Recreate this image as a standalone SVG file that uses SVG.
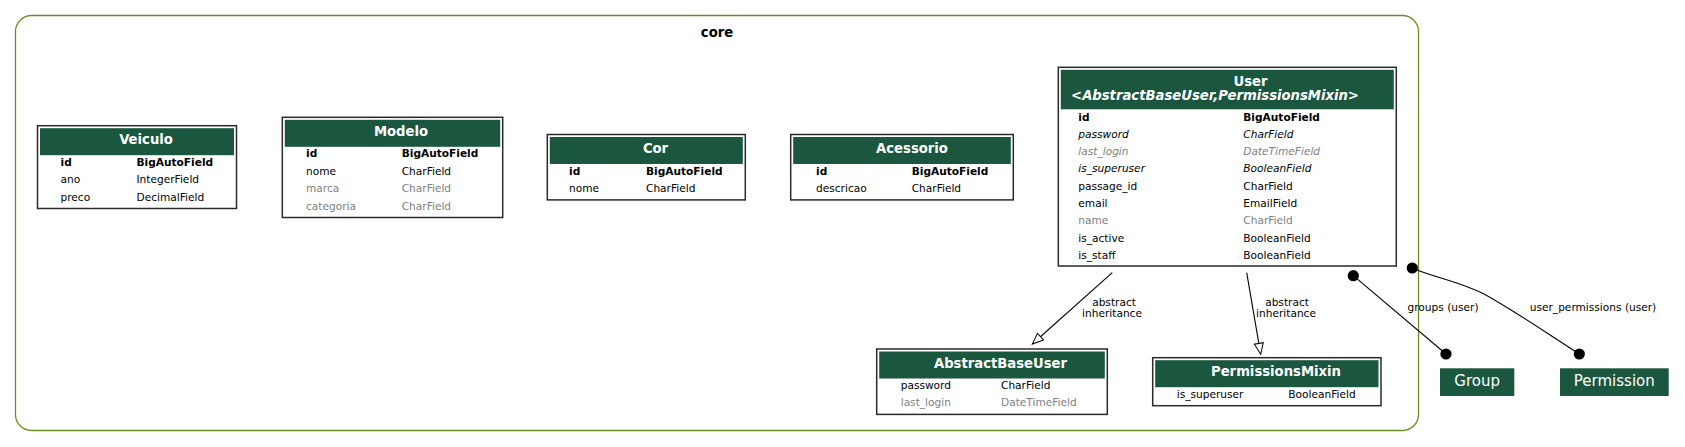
<svg xmlns="http://www.w3.org/2000/svg" width="1685" height="447" viewBox="0 0 1685 447">
<style>
text{font-family:"DejaVu Sans","Liberation Sans",sans-serif;fill:#000}
.f{font-size:10.6px}
.b{font-weight:bold}
.i{font-style:italic}
.g{fill:#808080}
.t{font-size:13.2px;font-weight:bold;fill:#fff;text-anchor:middle}
.box{fill:#fff;stroke:#2a2a2a;stroke-width:1.5}
.hd{fill:#1b563f}
.lbl{font-size:10.6px;text-anchor:middle}
.ext{font-size:15px;fill:#fff;text-anchor:middle}
.edge{fill:none;stroke:#000;stroke-width:1.1}
.dot{fill:#000}
</style>
<defs>
<marker id="inh" viewBox="0 0 13 11" refX="12" refY="5.5" markerWidth="13" markerHeight="11" markerUnits="userSpaceOnUse" orient="auto">
<path d="M1,1 L12,5.5 L1,10 Z" fill="#fff" stroke="#000" stroke-width="1"/>
</marker>
</defs>
<rect width="1685" height="447" fill="#fff"/>
<g id="cluster_core">
<rect x="15.5" y="15.5" width="1403" height="415" rx="16" fill="none" stroke="#6b8e23" stroke-width="1.3"/>
<text x="717" y="36.5" style="font-size:13.2px;font-weight:bold;text-anchor:middle">core</text>
</g>
<g id="Veiculo">
<rect class="box" x="37.5" y="125.7" width="199" height="82.8"/>
<rect class="hd" x="40" y="128.2" width="194" height="27"/>
<text class="t" x="146" y="144.2">Veiculo</text>
<text class="f b" x="60.5" y="165.7">id</text><text class="f b" x="136.5" y="165.7">BigAutoField</text>
<text class="f" x="60.5" y="183.1">ano</text><text class="f" x="136.5" y="183.1">IntegerField</text>
<text class="f" x="60.5" y="200.5">preco</text><text class="f" x="136.5" y="200.5">DecimalField</text>
</g>
<g id="Modelo">
<rect class="box" x="282.3" y="117.3" width="220.4" height="100.2"/>
<rect class="hd" x="284.8" y="119.8" width="215.4" height="27"/>
<text class="t" x="401" y="135.8">Modelo</text>
<text class="f b" x="306" y="157.3">id</text><text class="f b" x="401.7" y="157.3">BigAutoField</text>
<text class="f" x="306" y="174.7">nome</text><text class="f" x="401.7" y="174.7">CharField</text>
<text class="f g" x="306" y="192.1">marca</text><text class="f g" x="401.7" y="192.1">CharField</text>
<text class="f g" x="306" y="209.5">categoria</text><text class="f g" x="401.7" y="209.5">CharField</text>
</g>
<g id="Cor">
<rect class="box" x="547.3" y="134.5" width="198" height="65.4"/>
<rect class="hd" x="549.8" y="137" width="193" height="27"/>
<text class="t" x="655.5" y="153">Cor</text>
<text class="f b" x="569" y="174.5">id</text><text class="f b" x="646" y="174.5">BigAutoField</text>
<text class="f" x="569" y="191.9">nome</text><text class="f" x="646" y="191.9">CharField</text>
</g>
<g id="Acessorio">
<rect class="box" x="790.7" y="134.5" width="222.6" height="65.4"/>
<rect class="hd" x="793.2" y="137" width="217.6" height="27"/>
<text class="t" x="912" y="153">Acessorio</text>
<text class="f b" x="816" y="174.5">id</text><text class="f b" x="911.7" y="174.5">BigAutoField</text>
<text class="f" x="816" y="191.9">descricao</text><text class="f" x="911.7" y="191.9">CharField</text>
</g>
<g id="User">
<rect class="box" x="1058.3" y="67.3" width="338" height="198.7"/>
<rect class="hd" x="1060.8" y="69.8" width="333" height="39.5"/>
<text class="t" x="1250.5" y="86.3">User</text>
<text class="t" x="1215" y="100" style="font-style:italic">&lt;AbstractBaseUser,PermissionsMixin&gt;</text>
<text class="f b" x="1078.3" y="120.5">id</text><text class="f b" x="1243.3" y="120.5">BigAutoField</text>
<text class="f i" x="1078.3" y="137.8">password</text><text class="f i" x="1243.3" y="137.8">CharField</text>
<text class="f i g" x="1078.3" y="155.1">last_login</text><text class="f i g" x="1243.3" y="155.1">DateTimeField</text>
<text class="f i" x="1078.3" y="172.4">is_superuser</text><text class="f i" x="1243.3" y="172.4">BooleanField</text>
<text class="f" x="1078.3" y="189.7">passage_id</text><text class="f" x="1243.3" y="189.7">CharField</text>
<text class="f" x="1078.3" y="207">email</text><text class="f" x="1243.3" y="207">EmailField</text>
<text class="f g" x="1078.3" y="224.3">name</text><text class="f g" x="1243.3" y="224.3">CharField</text>
<text class="f" x="1078.3" y="241.6">is_active</text><text class="f" x="1243.3" y="241.6">BooleanField</text>
<text class="f" x="1078.3" y="258.9">is_staff</text><text class="f" x="1243.3" y="258.9">BooleanField</text>
</g>
<g id="AbstractBaseUser">
<rect class="box" x="876.7" y="349" width="230.6" height="65.4"/>
<rect class="hd" x="879.2" y="351.5" width="225.6" height="27"/>
<text class="t" x="1000.5" y="367.5">AbstractBaseUser</text>
<text class="f" x="900.7" y="389">password</text><text class="f" x="1001" y="389">CharField</text>
<text class="f g" x="900.7" y="406.4">last_login</text><text class="f g" x="1001" y="406.4">DateTimeField</text>
</g>
<g id="PermissionsMixin">
<rect class="box" x="1152.7" y="357.7" width="228.3" height="48"/>
<rect class="hd" x="1155.2" y="360.2" width="223.3" height="27"/>
<text class="t" x="1276" y="376.2">PermissionsMixin</text>
<text class="f" x="1176.7" y="397.7">is_superuser</text><text class="f" x="1288.3" y="397.7">BooleanField</text>
</g>
<g id="Group">
<rect x="1440" y="368.3" width="74.3" height="27.7" fill="#1b563f"/>
<text class="ext" x="1477.2" y="385.5">Group</text>
</g>
<g id="Permission">
<rect x="1560" y="368.3" width="108.7" height="27.7" fill="#1b563f"/>
<text class="ext" x="1614.3" y="385.5">Permission</text>
</g>
<g id="connectors">
<line class="edge" x1="1112.3" y1="272.7" x2="1032.3" y2="344" marker-end="url(#inh)"/>
<text class="lbl" x="1114" y="305.5">abstract</text>
<text class="lbl" x="1112" y="316.5">inheritance</text>
<line class="edge" x1="1246.7" y1="272.7" x2="1260.7" y2="354.3" marker-end="url(#inh)"/>
<text class="lbl" x="1287" y="305.5">abstract</text>
<text class="lbl" x="1286" y="316.5">inheritance</text>
<line class="edge" x1="1353.3" y1="275.7" x2="1446" y2="354"/>
<circle class="dot" cx="1353.3" cy="275.7" r="5.6"/>
<circle class="dot" cx="1446" cy="354" r="5.6"/>
<text class="lbl" x="1443" y="311">groups (user)</text>
<path class="edge" d="M1412.3,268 C1432,277 1458,281 1484,294 C1515,311 1548,334 1579.3,354"/>
<circle class="dot" cx="1412.3" cy="268" r="5.6"/>
<circle class="dot" cx="1579.3" cy="354" r="5.6"/>
<text class="lbl" x="1593" y="311">user_permissions (user)</text>
</g>
</svg>
